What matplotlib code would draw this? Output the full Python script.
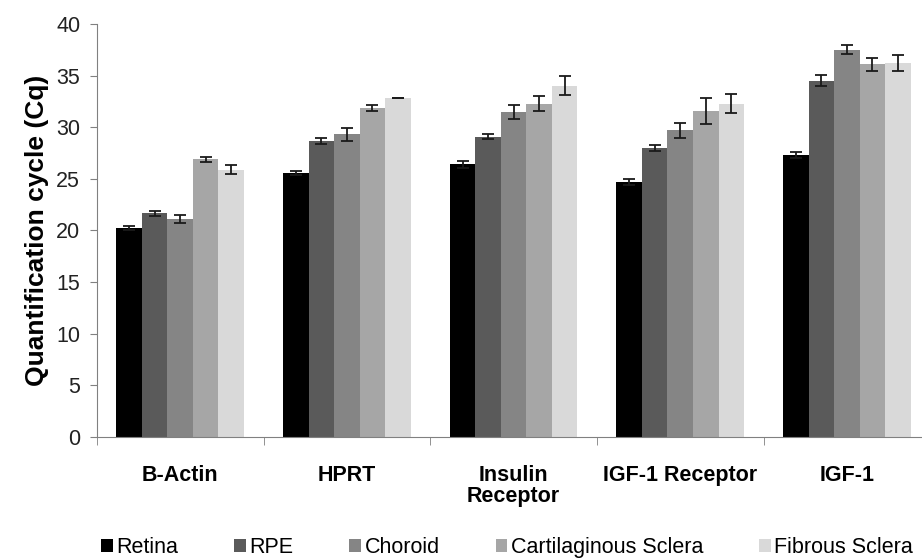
import numpy as np
import matplotlib
matplotlib.use("Agg")
from matplotlib import pyplot as plt

genes = ["B-Actin", "HPRT", "Insulin\nReceptor", "IGF-1 Receptor", "IGF-1"]
tissues = ["Retina", "RPE", "Choroid", "Cartilaginous Sclera", "Fibrous Sclera"]
colors = ["#000000", "#5a5a5a", "#858585", "#a6a6a6", "#d9d9d9"]

# Cq means per tissue, one value per gene
retina = [20.2, 25.6, 26.4, 24.7, 27.3]
rpe = [21.65, 28.7, 29.1, 28.0, 34.5]
choroid = [21.07, 29.3, 31.5, 29.7, 37.5]
cart_sclera = [26.9, 31.9, 32.3, 31.6, 36.1]
fib_sclera = [25.9, 32.8, 34.0, 32.3, 36.2]

retina_err = [0.2, 0.2, 0.3, 0.25, 0.3]
rpe_err = [0.27, 0.3, 0.27, 0.3, 0.52]
choroid_err = [0.39, 0.63, 0.68, 0.73, 0.44]
cart_sclera_err = [0.26, 0.3, 0.72, 1.26, 0.63]
fib_sclera_err = [0.45, 0.0, 0.92, 0.92, 0.77]

values = [retina, rpe, choroid, cart_sclera, fib_sclera]
errors = [retina_err, rpe_err, choroid_err, cart_sclera_err, fib_sclera_err]

plt.rcParams['font.family'] = ['Liberation Sans', 'DejaVu Sans']

fig = plt.figure(figsize=(9.22, 5.6), dpi=100)
ax = fig.add_axes([0.105, 0.22, 0.904, 0.737])

x = np.arange(len(genes))
width = 0.153
for i, (vals, errs) in enumerate(zip(values, errors)):
    offset = (i - 2) * width
    ax.bar(x + offset, vals, width, color=colors[i], label=tissues[i], zorder=2)
    ax.errorbar(x + offset, vals, yerr=errs, fmt="none", ecolor="#1a1a1a",
                elinewidth=1.3, capsize=4.5, capthick=1.3, zorder=3)

ax.set_ylim(0, 40)
ax.set_xlim(-0.5, len(genes) - 0.5)
ax.set_yticks(range(0, 41, 5))
ax.tick_params(axis="y", labelsize=15.5, length=5, color="#808080", pad=7,
               labelcolor="#222222")

# category labels centred, ticks on group borders
ax.set_xticks(x)
ax.set_xticklabels(genes, fontsize=15.5, fontweight="bold", va="top",
                   linespacing=1.05)
ax.tick_params(axis="x", which="major", length=0, pad=20)
ax.set_xticks(np.arange(-0.5, len(genes), 1), minor=True)
ax.tick_params(axis="x", which="minor", length=6, color="#808080")

ax.set_ylabel("Quantification cycle (Cq)", fontsize=19, fontweight="bold",
              labelpad=5)

# remove borders
ax.spines['top'].set_visible(False)
ax.spines['right'].set_visible(False)
ax.spines['left'].set_color("#808080")
ax.spines['bottom'].set_color("#808080")

fig.legend(loc="center", bbox_to_anchor=(0.55, 0.022), ncol=5, frameon=False,
           fontsize=15.5, handlelength=0.55, handleheight=0.55,
           handletextpad=0.15, columnspacing=2.6)

fig.savefig("out.png", dpi=100)
